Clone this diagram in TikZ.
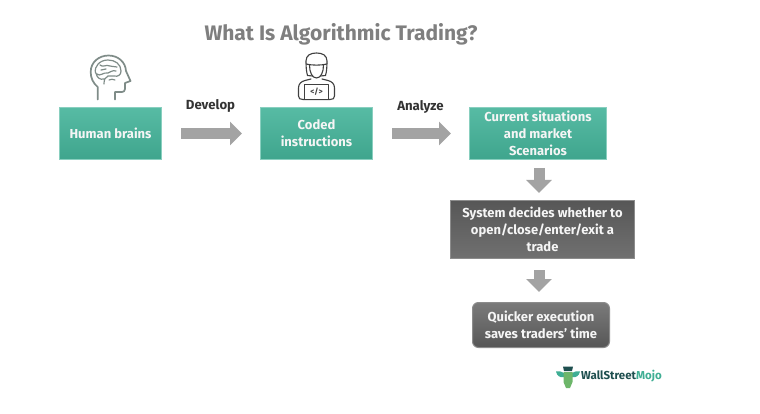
\documentclass[tikz,border=0pt]{standalone}
\usepackage{fontspec}
\setmainfont{Fira Sans}
\usetikzlibrary{arrows.meta,shadings}
\definecolor{tealtop}{HTML}{57BBA4}
\definecolor{tealbot}{HTML}{3FA58D}
\definecolor{titlegray}{HTML}{7F7F7F}
\definecolor{arrowgray}{HTML}{A3A3A3}
\definecolor{icongray}{HTML}{7F8C88}
\definecolor{logodark}{HTML}{1E4F4F}
\definecolor{logoteal}{HTML}{3FAE94}
\definecolor{logogreen}{HTML}{6DB66A}
\tikzset{
  x=1pt,y=-1pt,
  boxtext/.style={text=white!96!black,font=\bfseries\fontsize{13}{17}\selectfont,align=center,inner sep=0pt,anchor=center},
  tealbox/.style={boxtext,top color=tealtop,bottom color=tealbot,draw=tealtop!70!white,line width=1pt},
  darkbox/.style={boxtext,top color=black!66,bottom color=black!56,draw=black!45,line width=1pt},
  roundbox/.style={boxtext,top color=black!52,bottom color=black!66,draw=black!45,line width=1pt,rounded corners=6pt},
  blockh/.style={arrowgray,line width=11.5pt,-{Triangle[length=12pt,width=23pt]}},
  blockv/.style={arrowgray,line width=11pt,-{Triangle[length=13pt,width=25pt]}},
  lbl/.style={text=black!80,font=\bfseries\fontsize{13.2}{15}\selectfont,inner sep=0pt},
  iconline/.style={icongray,line width=1.7pt,line join=round,line cap=round},
  coderline/.style={black!75,line width=1.1pt,line join=round,line cap=round}
}
\begin{document}
\begin{tikzpicture}
\useasboundingbox (0,0) rectangle (760,414);
\fill[white] (0,0) rectangle (760,414);
\node[text=titlegray,font=\bfseries\fontsize{21}{25}\selectfont,inner sep=0pt] (title) at (341,34) {What Is Algorithmic Trading?};

\node[tealbox,minimum width=102pt,minimum height=52pt] (hb) at (110.5,133.5) {Human brains};
\node[tealbox,minimum width=112pt,minimum height=52pt] (ci) at (316.5,133.5) {Coded\\instructions};
\node[tealbox,minimum width=137pt,minimum height=52pt] (cs) at (538,133.5) {Current situations\\and market\\Scenarios};
\node[darkbox,minimum width=184pt,minimum height=58pt] (sd) at (542.5,229.5) {System decides whether to\\open/close/enter/exit a\\trade};
\node[roundbox,minimum width=137pt,minimum height=45pt] (qe) at (541,325) {Quicker execution\\saves traders{\char39} time};

\draw[blockh,shorten <=19pt,shorten >=18pt] (hb.east) -- (ci.west);
\draw[blockh,shorten <=19pt,shorten >=18pt] (ci.east) -- (cs.west);
\draw[blockv,shorten <=8pt,shorten >=7pt] (cs.south -| sd.south) ++(-3.5,0) coordinate (d1a) (d1a) -- (sd.north -| d1a);
\draw[blockv,shorten <=11pt,shorten >=10pt] (sd.south -| d1a) -- (qe.north -| d1a);

\node[lbl] (dev) at (210.5,105.5) {Develop};
\node[lbl] (ana) at (420.5,107) {Analyze};

% brain icon
\draw[iconline] (97.7,99.5) -- (97.7,87) .. controls (93,83) and (90.7,78) .. (90.7,72)
  .. controls (90.7,62) and (99,55.5) .. (108.5,55.5)
  .. controls (118,55.5) and (125.5,62) .. (126,71)
  -- (130.5,81) -- (125,83) -- (125,89) .. controls (125,91) and (123.5,92) .. (122,92)
  -- (115,92) -- (115,99.5);
\draw[icongray,line width=1.2pt,line cap=round,line join=round]
  (95.5,73) .. controls (94,66) and (100,60) .. (108,60) .. controls (115,60) and (121,64) .. (121,71)
  .. controls (121,75) and (118,77) .. (114,76) -- (108,76) .. controls (105,77) and (104,80) .. (104,84)
  (97,74) .. controls (100,77) and (103,72) .. (108,73) .. controls (111,72) and (112,70) .. (116,71)
  (100,65) .. controls (103,68) and (106,64) .. (110,66) .. controls (112,68) and (114,65) .. (117,67)
  (101,70) -- (106,69) (109,80) .. controls (111,79) and (113,79) .. (115,80)
  (96,73) .. controls (97,78) and (100,80) .. (104,79);

% coder icon
\draw[coderline] (307.5,75.5) .. controls (306.5,72) and (306,68) .. (306,61) .. controls (306,55) and (311,53) .. (316.5,53)
  .. controls (322,53) and (327,55) .. (327,61) .. controls (327,68) and (326.5,72) .. (325.5,75.5);
\draw[coderline] (306,64) .. controls (312,65.5) and (321,65.5) .. (327,64);
\draw[coderline] (309.5,65) .. controls (309.5,72) and (312,78) .. (316.5,78) .. controls (321,78) and (323.5,72) .. (323.5,65);
\draw[coderline] (307.5,75.5) -- (312.5,76) (325.5,75.5) -- (320.5,76);
\draw[coderline] (311,79) -- (305,80.5) .. controls (301,81.5) and (298.5,84) .. (298.5,88) -- (298.5,96) .. controls (298.5,98.5) and (300,99.5) .. (303,99.5)
  -- (330,99.5) .. controls (333,99.5) and (334.5,98.5) .. (334.5,96) -- (334.5,88) .. controls (334.5,84) and (332,81.5) .. (328,80.5) -- (322,79);
\draw[coderline,fill=white] (304.5,84.5) rectangle (328.5,99.5);
\node[text=black!75,font=\bfseries\fontsize{8}{8}\selectfont,inner sep=0pt] (code) at (316.5,91.5) {</>};

% logo
\fill[logodark] (563,366.5) -- (573,366.5) -- (572,371) -- (564,371) -- cycle;
\fill[logoteal] (556,371.5) .. controls (559,370) and (561,372) .. (564,373) -- (564,377) .. controls (560,378) and (557,376) .. (556,371.5);
\fill[logoteal] (580,371.5) .. controls (577,370) and (575,372) .. (572,373) -- (572,377) .. controls (576,378) and (579,376) .. (580,371.5);
\fill[logogreen] (563.5,372) -- (572.5,372) -- (572.5,382) -- (570,388) -- (566,388) -- (563.5,382) -- cycle;
\node[anchor=west,inner sep=0pt,font=\bfseries\fontsize{11.5}{12}\selectfont] (logo) at (581,376.5) {\textcolor{logodark}{WallStreet}\textcolor{logoteal}{Mojo}};
\end{tikzpicture}
\end{document}
